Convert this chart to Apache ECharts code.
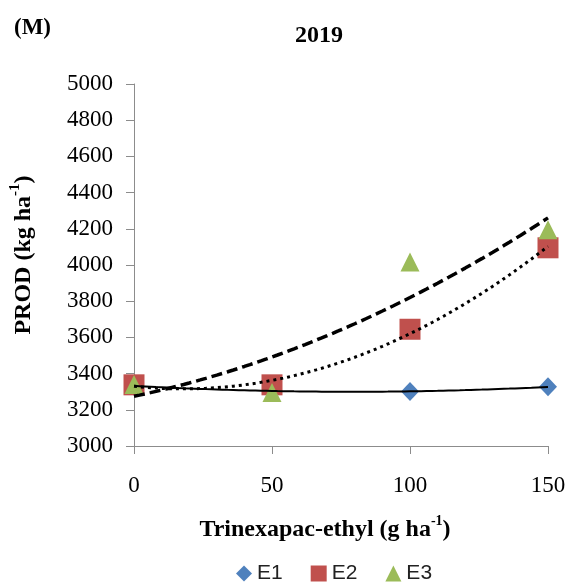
<!DOCTYPE html>
<html>
<head>
<meta charset="utf-8">
<script src="https://cdn.jsdelivr.net/npm/echarts@6/dist/echarts.min.js"></script>
<style>
html,body{margin:0;padding:0;background:#fff;}
#chart{width:569px;height:583px;}
</style>
</head>
<body>
<div id="chart"></div>
<script>
// Data
var doses = [0, 50, 100, 150];
var seriesNames = ['E1', 'E2', 'E3'];
var e1 = [3332, 3305, 3301, 3327];
var e2 = [3338, 3338, 3645, 4095];
var e3 = [3340, 3296, 4016, 4195];
var yTicks = [3000, 5000, 200];
var xTicks = [0, 150, 50];

// quadratic least-squares trendline (as in the original Excel trendlines)
function quadFit(xs, ys) {
  var n = xs.length, s = [0,0,0,0,0], t = [0,0,0];
  for (var i = 0; i < n; i++) {
    var x = xs[i], y = ys[i];
    for (var k = 0; k < 5; k++) s[k] += Math.pow(x, k);
    for (var k2 = 0; k2 < 3; k2++) t[k2] += Math.pow(x, k2) * y;
  }
  var A = [[s[0], s[1], s[2], t[0]], [s[1], s[2], s[3], t[1]], [s[2], s[3], s[4], t[2]]];
  for (var c = 0; c < 3; c++) {
    for (var r = c + 1; r < 3; r++) {
      var f = A[r][c] / A[c][c];
      for (var j = c; j < 4; j++) A[r][j] -= f * A[c][j];
    }
  }
  var coef = [0,0,0];
  for (var r2 = 2; r2 >= 0; r2--) {
    var v = A[r2][3];
    for (var j2 = r2 + 1; j2 < 3; j2++) v -= A[r2][j2] * coef[j2];
    coef[r2] = v / A[r2][r2];
  }
  return coef;
}
function trend(ys) {
  var c = quadFit(doses, ys), pts = [];
  for (var x = doses[0]; x <= doses[doses.length - 1]; x += 2) {
    pts.push([x, c[0] + c[1] * x + c[2] * x * x]);
  }
  return pts;
}
function pairs(ys) { return doses.map(function (d, i) { return [d, ys[i]]; }); }

var serif = 'Liberation Serif, Times New Roman, serif';
var chart = echarts.init(document.getElementById('chart'));
chart.setOption({
  animation: false,
  backgroundColor: '#ffffff',
  title: [
    { text: '(M)', left: 9, top: 12, textStyle: { fontFamily: serif, fontWeight: 'bold', fontSize: 23, color: '#000' } },
    { text: '2019', left: 290, top: 19, textStyle: { fontFamily: serif, fontWeight: 'bold', fontSize: 24, color: '#000' } }
  ],
  grid: { left: 132, right: 21, top: 84, bottom: 137, containLabel: false },
  legend: {
    data: [
      { name: 'E1', icon: 'diamond' },
      { name: 'E2', icon: 'rect' },
      { name: 'E3', icon: 'triangle' }
    ],
    left: 231, top: 558, itemWidth: 16, itemHeight: 16, itemGap: 28, itemTextGap: 4,
    textStyle: { fontFamily: 'Liberation Sans, Arial, sans-serif', fontSize: 21, color: '#222' }
  },
  xAxis: {
    type: 'value', min: xTicks[0], max: xTicks[1], interval: xTicks[2],
    name: '{b|Trinexapac-ethyl (g ha}{s|-1}{b|)}',
    nameLocation: 'middle', nameGap: 68,
    nameTextStyle: {
      padding: [0, 32, 0, 0],
      rich: {
        b: { fontFamily: serif, fontWeight: 'bold', fontSize: 24, color: '#000', lineHeight: 28, verticalAlign: 'bottom' },
        s: { fontFamily: serif, fontWeight: 'bold', fontSize: 14, color: '#000', lineHeight: 28, verticalAlign: 'top', padding: [0, 0, 12, 0] }
      }
    },
    axisLine: { lineStyle: { color: '#8c8c8c', width: 1 } },
    axisTick: { show: true, length: 8, lineStyle: { color: '#8c8c8c' } },
    axisLabel: { margin: 28, fontFamily: serif, fontSize: 23, color: '#000', formatter: function (v) { return String(v); } },
    splitLine: { show: false }
  },
  yAxis: {
    type: 'value', min: yTicks[0], max: yTicks[1], interval: yTicks[2],
    name: '{b|PROD (kg ha}{s|-1}{b|)}',
    nameLocation: 'middle', nameGap: 98, nameRotate: 90,
    nameTextStyle: {
      padding: [0, 0, 0, 20],
      rich: {
        b: { fontFamily: serif, fontWeight: 'bold', fontSize: 24, color: '#000', lineHeight: 28, verticalAlign: 'bottom' },
        s: { fontFamily: serif, fontWeight: 'bold', fontSize: 15, color: '#000', lineHeight: 28, verticalAlign: 'top', padding: [0, 0, 12, 0] }
      }
    },
    axisLine: { show: true, lineStyle: { color: '#8c8c8c', width: 1 } },
    axisTick: { show: true, length: 8, lineStyle: { color: '#8c8c8c' } },
    axisLabel: { margin: 21, fontFamily: serif, fontSize: 23, color: '#000', formatter: function (v) { return String(v); } },
    splitLine: { show: false }
  },
  series: [
    { name: 'E1', type: 'scatter', symbol: 'diamond', symbolSize: [18, 19], itemStyle: { color: '#4F81BD', opacity: 1 }, data: pairs(e1), z: 2 },
    { name: 'E2', type: 'scatter', symbol: 'rect', symbolSize: 21, itemStyle: { color: '#C0504D', opacity: 1 }, data: pairs(e2), z: 3 },
    { name: 'E3', type: 'scatter', symbol: 'triangle', symbolSize: [19, 19], itemStyle: { color: '#9BBB59', opacity: 1 }, data: pairs(e3), z: 4 },
    { type: 'line', data: trend(e1), showSymbol: false, symbol: 'none', silent: true, z: 5,
      lineStyle: { color: '#000', width: 2, type: 'solid' } },
    { type: 'line', data: trend(e2), showSymbol: false, symbol: 'none', silent: true, z: 5,
      lineStyle: { color: '#000', width: 3, type: [3, 4] } },
    { type: 'line', data: trend(e3), showSymbol: false, symbol: 'none', silent: true, z: 5,
      lineStyle: { color: '#000', width: 3.5, type: [11, 5] } }
  ]
});
</script>
</body>
</html>
